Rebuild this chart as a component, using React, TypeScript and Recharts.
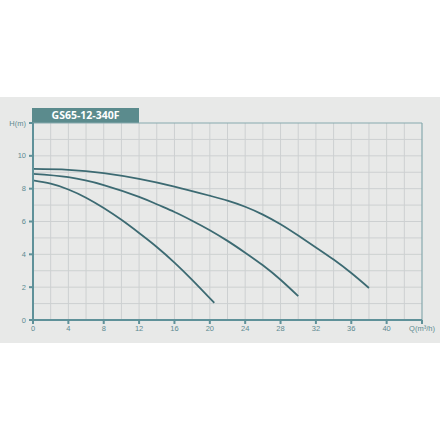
import React from "react";
import { LineChart, Line, XAxis, YAxis, ReferenceLine } from "recharts";

const curveSmall = [
  { q: 0, h: 8.5 }, { q: 2, h: 8.3 }, { q: 4, h: 7.95 }, { q: 6, h: 7.45 },
  { q: 8, h: 6.82 }, { q: 10, h: 6.1 }, { q: 12, h: 5.3 }, { q: 14, h: 4.45 },
  { q: 16, h: 3.5 }, { q: 18, h: 2.45 }, { q: 20.5, h: 1.05 },
];
const curveMid = [
  { q: 0, h: 8.9 }, { q: 4, h: 8.7 }, { q: 8, h: 8.22 }, { q: 12, h: 7.5 },
  { q: 14, h: 7.05 }, { q: 16, h: 6.58 }, { q: 18, h: 6.05 }, { q: 20, h: 5.47 },
  { q: 22, h: 4.82 }, { q: 24, h: 4.1 }, { q: 26, h: 3.33 }, { q: 28, h: 2.45 },
  { q: 30, h: 1.45 },
];
const curveLarge = [
  { q: 0, h: 9.2 }, { q: 4, h: 9.15 }, { q: 8, h: 8.95 }, { q: 12, h: 8.6 },
  { q: 16, h: 8.13 }, { q: 20, h: 7.57 }, { q: 22, h: 7.27 }, { q: 24, h: 6.9 },
  { q: 26, h: 6.42 }, { q: 28, h: 5.83 }, { q: 30, h: 5.14 }, { q: 32, h: 4.42 },
  { q: 34, h: 3.68 }, { q: 36, h: 2.86 }, { q: 38, h: 1.95 },
];

const xTicks = [0, 4, 8, 12, 16, 20, 24, 28, 32, 36, 40, 44];
const yTicks = [0, 2, 4, 6, 8, 10, 12];
const xGrid = [2, 4, 6, 8, 10, 12, 14, 16, 18, 20, 22, 24, 26, 28, 30, 32, 34, 36, 38, 40, 42];
const yGrid = [1, 2, 3, 4, 5, 6, 7, 8, 9, 10, 11];
const title = "GS65-12-340F";
const xName = "Q(m³/h)";
const yName = "H(m)";

const axisColor = "#5f9199";
const labelColor = "#5d8a91";
const gridColor = "#cdd0d1";
const curveColor = "#3c6a72";

export default function App() {
  return (
    <div style={{ position: "fixed", left: 0, top: 0, width: 440, height: 440, background: "#ffffff", overflow: "hidden" }}>
      <div style={{ position: "absolute", left: 0, top: 97, width: 440, height: 246, background: "#e8e9e8" }} />
      <div
        style={{
          position: "absolute", left: 32, top: 108, width: 107, height: 15,
          background: "#5b8b8d", color: "#ffffff", fontFamily: "'Open Sans', 'DejaVu Sans', sans-serif",
          fontWeight: 700, fontSize: 10.5, lineHeight: "15px", textAlign: "center",
        }}
      >
        {title}
      </div>
      <div style={{ position: "absolute", left: 0, top: 0 }}>
        <LineChart width={440} height={440} data={curveLarge} margin={{ top: 123, right: 18, bottom: 100, left: 0 }}>
          {xGrid.map((v) => (
            <ReferenceLine key={"x" + v} x={v} stroke={gridColor} strokeWidth={1} />
          ))}
          {yGrid.map((v) => (
            <ReferenceLine key={"y" + v} y={v} stroke={gridColor} strokeWidth={1} />
          ))}
          <ReferenceLine y={12} stroke="#86a9ae" strokeWidth={1.2} />
          <ReferenceLine x={44} stroke="#86a9ae" strokeWidth={1.2} />
          <XAxis
            type="number"
            dataKey="q"
            domain={[0, 44]}
            ticks={xTicks}
            height={20}
            interval={0}
            allowDataOverflow
            stroke={axisColor}
            strokeWidth={2}
            tickSize={4}
            tickMargin={2}
            tickFormatter={(v: number) => (v === 44 ? xName : String(v))}
            tick={{ fill: labelColor, fontSize: 7.5, fontFamily: "'Liberation Sans', Arial, sans-serif" }}
          />
          <YAxis
            type="number"
            domain={[0, 12]}
            ticks={yTicks}
            width={33}
            interval={0}
            allowDataOverflow
            stroke={axisColor}
            strokeWidth={2}
            tickSize={4}
            tickMargin={3}
            tickFormatter={(v: number) => (v === 12 ? yName : String(v))}
            tick={{ fill: labelColor, fontSize: 7.5, fontFamily: "'Liberation Sans', Arial, sans-serif" }}
          />
          <Line data={curveSmall} dataKey="h" type="natural" stroke={curveColor} strokeWidth={1.8} dot={false} isAnimationActive={false} />
          <Line data={curveMid} dataKey="h" type="natural" stroke={curveColor} strokeWidth={1.8} dot={false} isAnimationActive={false} />
          <Line data={curveLarge} dataKey="h" type="natural" stroke={curveColor} strokeWidth={1.8} dot={false} isAnimationActive={false} />
        </LineChart>
      </div>
    </div>
  );
}
